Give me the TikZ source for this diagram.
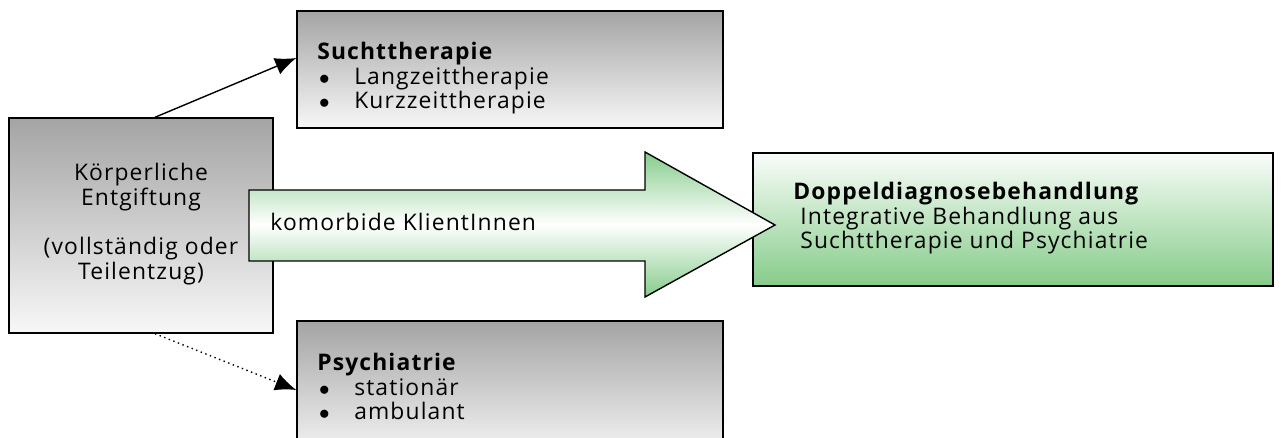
\documentclass[tikz,border=0pt]{standalone}
\usepackage{fontspec}
\setmainfont{Open Sans}[LetterSpace=5]
\usepackage{tikz}
\usetikzlibrary{arrows.meta, positioning, calc}
\definecolor{boxgray}{HTML}{A4A4A4}
\definecolor{boxgreen}{HTML}{86CC8A}
\tikzset{
    graybox/.style={draw=black, thick, top color=boxgray, bottom color=white!97!black, inner sep=0pt},
    greenbox/.style={draw=black, thick, top color=white!95!boxgreen, bottom color=boxgreen, inner sep=0pt},
    txt/.style={inner sep=0pt, font=\fontsize{13}{14}\selectfont, align=left},
    conn/.style={thick, -{Latex[length=12pt,width=10pt]}}
}
\newcommand{\itm}[1]{\makebox[21pt][l]{\hspace*{1pt}$\bullet$}#1}

\begin{document}
\begin{tikzpicture}[x=0.02cm, y=-0.02cm]
    \clip (0, 0) rectangle (1285, 438);

    % boxes
    \node[graybox, minimum width=264*0.02cm, minimum height=215*0.02cm] (entg) at (141, 225.5) {};
    \node[graybox, minimum width=426*0.02cm, minimum height=117*0.02cm] (sucht) at (510, 69.5) {};
    \node[graybox, minimum width=426*0.02cm, minimum height=138*0.02cm] (psych) at (510, 390) {};
    \node[greenbox, minimum width=520*0.02cm, minimum height=133*0.02cm] (dd) at (1013, 219.5) {};

    % big arrow
    \draw[thick, top color=boxgreen, bottom color=boxgreen, middle color=white]
    (249, 190) -- (645, 190) -- (645, 152) -- (775, 225) -- (645, 297) -- (645, 261) -- (249, 261) -- cycle;

    % texts
    \node[txt, align=center] (entgtxt) at (entg.center) [yshift=0.03cm]
        {Körperliche\\Entgiftung\\[14pt](vollständig oder\\Teilentzug)};
    \node[txt, anchor=north west] (suchttxt) at (317, 42)
        {\textbf{Suchttherapie}\\\itm{Langzeittherapie}\\\itm{Kurzzeittherapie}};
    \node[txt, anchor=north west] (psychtxt) at (317, 353)
        {\textbf{Psychiatrie}\\\itm{stationär}\\\itm{ambulant}};
    \node[txt, anchor=west] (komtxt) at (270, 222) {komorbide KlientInnen};
    \node[txt, anchor=north west] (ddtxt) at (793, 182)
        {\textbf{Doppeldiagnosebehandlung}\\\hspace*{4pt}Integrative Behandlung aus\\\hspace*{4pt}Suchttherapie und Psychiatrie};

    % connectors
    \draw[conn] ([xshift=0.28cm]entg.north) -- ([yshift=0.23cm]sucht.west);
    \draw[conn, dotted] ([xshift=0.28cm]entg.south) -- (psych.west);
\end{tikzpicture}
\end{document}
